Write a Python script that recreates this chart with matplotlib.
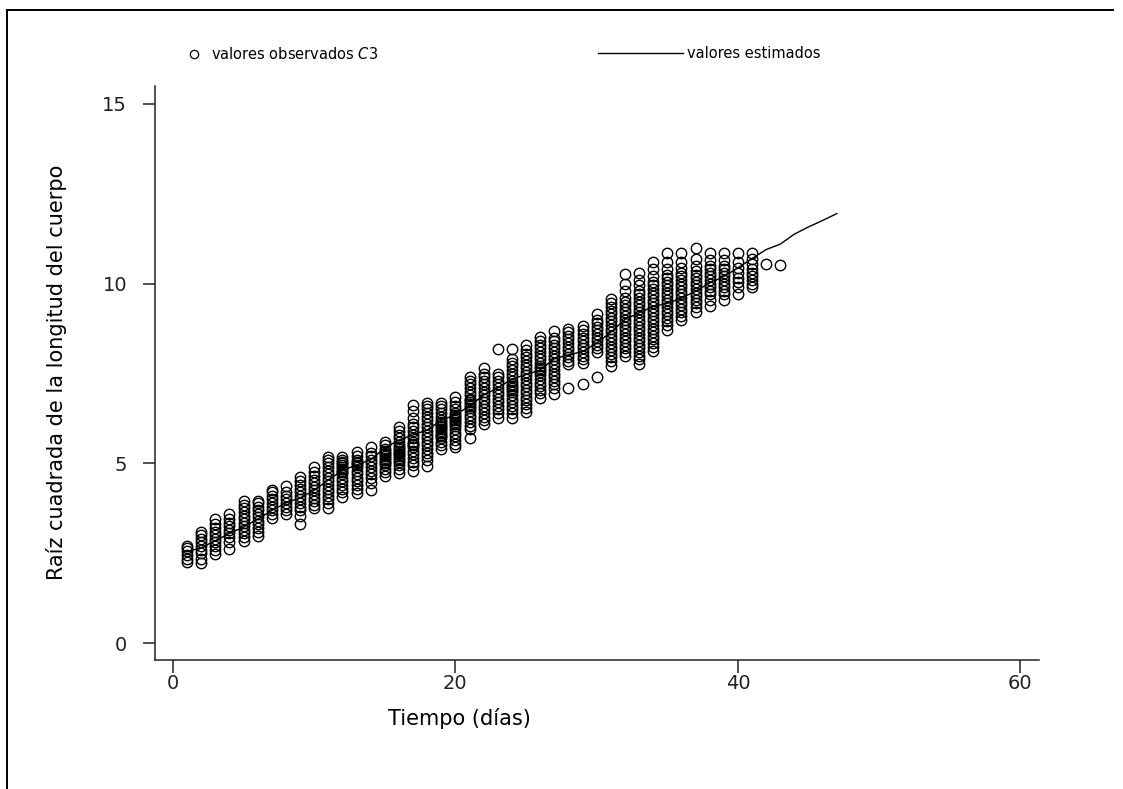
import matplotlib
matplotlib.use('Agg')
import matplotlib.pyplot as plt
from matplotlib.lines import Line2D

obs = {
    1: [2.25, 2.35, 2.45, 2.55, 2.65, 2.7],
    2: [2.22, 2.35, 2.5, 2.6, 2.7, 2.8, 2.9, 3.0, 3.1],
    3: [2.48, 2.6, 2.7, 2.8, 2.9, 3.0, 3.1, 3.2, 3.3, 3.45],
    4: [2.62, 2.8, 2.95, 3.05, 3.15, 3.25, 3.35, 3.45, 3.6],
    5: [2.85, 2.95, 3.05, 3.15, 3.25, 3.35, 3.45, 3.55, 3.65, 3.75, 3.85, 3.96],
    6: [2.98, 3.1, 3.2, 3.3, 3.4, 3.5, 3.6, 3.7, 3.8, 3.9, 3.96],
    7: [3.48, 3.6, 3.7, 3.8, 3.9, 4.0, 4.1, 4.2, 4.26],
    8: [3.59, 3.7, 3.8, 3.9, 4.0, 4.1, 4.2, 4.37],
    9: [3.31, 3.55, 3.7, 3.8, 3.9, 4.0, 4.1, 4.2, 4.3, 4.4, 4.5, 4.62],
    10: [3.76, 3.85, 3.95, 4.05, 4.15, 4.25, 4.35, 4.45, 4.55, 4.65, 4.75, 4.9],
    11: [3.76, 3.9, 4.0, 4.1, 4.2, 4.3, 4.4, 4.5, 4.6, 4.7, 4.8, 4.9, 5.0, 5.1, 5.18],
    12: [4.07, 4.2, 4.3, 4.4, 4.5, 4.6, 4.7, 4.75, 4.8, 4.85, 4.9, 4.95, 5.0, 5.05, 5.1, 5.19],
    13: [4.18, 4.3, 4.4, 4.5, 4.6, 4.7, 4.8, 4.9, 4.95, 5.0, 5.05, 5.1, 5.2, 5.32],
    14: [4.26, 4.45, 4.6, 4.7, 4.8, 4.9, 5.0, 5.1, 5.2, 5.3, 5.46],
    15: [4.66, 4.75, 4.85, 4.95, 5.0, 5.05, 5.1, 5.15, 5.2, 5.25, 5.3, 5.35, 5.4, 5.5, 5.6],
    16: [4.74, 4.85, 4.95, 5.05, 5.1, 5.15, 5.2, 5.25, 5.3, 5.35, 5.4, 5.45, 5.5, 5.6, 5.7, 5.8, 5.9, 6.02],
    17: [4.8, 4.95, 5.05, 5.15, 5.25, 5.35, 5.45, 5.5, 5.55, 5.6, 5.7, 5.8, 5.9, 6.0, 6.1, 6.25, 6.45, 6.63],
    18: [4.93, 5.1, 5.2, 5.3, 5.4, 5.5, 5.6, 5.7, 5.8, 5.9, 6.0, 6.1, 6.2, 6.3, 6.4, 6.5, 6.6, 6.69],
    19: [5.4, 5.5, 5.6, 5.7, 5.75, 5.8, 5.85, 5.9, 5.95, 6.0, 6.05, 6.1, 6.15, 6.2, 6.3, 6.4, 6.5, 6.6, 6.68],
    20: [5.46, 5.55, 5.65, 5.75, 5.85, 5.95, 6.05, 6.1, 6.15, 6.2, 6.25, 6.3, 6.35, 6.4, 6.5, 6.6, 6.7, 6.85],
    21: [5.7, 5.95, 6.05, 6.15, 6.25, 6.35, 6.45, 6.55, 6.6, 6.65, 6.7, 6.75, 6.8, 6.9, 7.0, 7.1, 7.2, 7.3, 7.41],
    22: [6.1, 6.2, 6.3, 6.4, 6.5, 6.6, 6.7, 6.8, 6.9, 7.0, 7.1, 7.2, 7.3, 7.4, 7.5, 7.66],
    23: [6.27, 6.4, 6.5, 6.6, 6.7, 6.8, 6.9, 7.0, 7.1, 7.2, 7.3, 7.4, 7.49, 8.19],
    24: [6.27, 6.4, 6.5, 6.6, 6.7, 6.8, 6.9, 7.0, 7.05, 7.1, 7.15, 7.2, 7.3, 7.4, 7.5, 7.6, 7.7, 7.8, 7.91, 8.19],
    25: [6.42, 6.55, 6.65, 6.75, 6.85, 6.95, 7.05, 7.15, 7.25, 7.35, 7.45, 7.55, 7.65, 7.75, 7.85, 7.95, 8.05, 8.15, 8.3],
    26: [6.82, 6.95, 7.05, 7.15, 7.25, 7.35, 7.45, 7.55, 7.6, 7.65, 7.7, 7.8, 7.9, 8.0, 8.1, 8.2, 8.3, 8.4, 8.52],
    27: [6.94, 7.1, 7.2, 7.3, 7.4, 7.5, 7.6, 7.7, 7.8, 7.9, 8.0, 8.1, 8.2, 8.3, 8.4, 8.5, 8.67],
    28: [7.1, 7.77, 7.85, 7.95, 8.05, 8.15, 8.25, 8.35, 8.45, 8.55, 8.65, 8.75],
    29: [7.2, 7.8, 7.9, 8.0, 8.1, 8.2, 8.3, 8.4, 8.5, 8.6, 8.7, 8.81],
    30: [7.39, 8.11, 8.2, 8.3, 8.4, 8.5, 8.6, 8.7, 8.8, 8.9, 9.0, 9.16],
    31: [7.7, 7.85, 7.95, 8.05, 8.15, 8.25, 8.35, 8.45, 8.55, 8.65, 8.75, 8.85, 8.95, 9.05, 9.15, 9.25, 9.35, 9.45, 9.58],
    32: [8.0, 8.1, 8.2, 8.3, 8.4, 8.5, 8.6, 8.7, 8.8, 8.9, 9.0, 9.1, 9.2, 9.3, 9.4, 9.5, 9.6, 9.8, 10.0, 10.28],
    33: [7.77, 7.9, 8.0, 8.1, 8.2, 8.3, 8.4, 8.5, 8.6, 8.7, 8.8, 8.9, 9.0, 9.1, 9.2, 9.3, 9.4, 9.5, 9.6, 9.7, 9.8, 9.95, 10.1, 10.31],
    34: [8.14, 8.25, 8.35, 8.45, 8.55, 8.65, 8.75, 8.85, 8.95, 9.05, 9.15, 9.25, 9.35, 9.45, 9.55, 9.65, 9.75, 9.85, 9.95, 10.05, 10.2, 10.4, 10.6],
    35: [8.7, 8.85, 8.95, 9.05, 9.15, 9.25, 9.35, 9.45, 9.55, 9.65, 9.75, 9.85, 9.95, 10.05, 10.15, 10.25, 10.4, 10.6, 10.84],
    36: [8.98, 9.1, 9.2, 9.3, 9.4, 9.5, 9.6, 9.7, 9.8, 9.9, 10.0, 10.1, 10.2, 10.3, 10.45, 10.6, 10.84],
    37: [9.2, 9.35, 9.45, 9.55, 9.65, 9.75, 9.85, 9.95, 10.05, 10.15, 10.25, 10.35, 10.5, 10.7, 11.0],
    38: [9.39, 9.55, 9.7, 9.8, 9.9, 10.0, 10.1, 10.2, 10.3, 10.4, 10.5, 10.65, 10.84],
    39: [9.54, 9.7, 9.8, 9.9, 10.0, 10.1, 10.2, 10.3, 10.4, 10.5, 10.65, 10.84],
    40: [9.72, 9.9, 10.05, 10.15, 10.3, 10.45, 10.6, 10.84],
    41: [9.9, 10.0, 10.1, 10.2, 10.3, 10.4, 10.55, 10.7, 10.84],
    42: [10.56],
    43: [10.53],
}

# estimated curve
est_days = list(range(1, 48))
est_vals = [2.55, 2.65, 2.85, 3.05, 3.23, 3.45, 3.69, 3.9, 4.04, 4.25,
            4.54, 4.8, 4.96, 5.1, 5.43, 5.65, 5.79, 5.93, 6.2, 6.35,
            6.6, 6.9, 7.1, 7.35, 7.47, 7.6, 7.91, 8.02, 8.11, 8.35,
            8.65, 9.0, 9.19, 9.36, 9.45, 9.6, 9.79, 10.02, 10.2, 10.44,
            10.7, 10.95, 11.1, 11.38, 11.58, 11.76, 11.95]

x_obs = []
y_obs = []
for d in obs:
    for v in obs[d]:
        x_obs.append(d)
        y_obs.append(v)

plt.rcParams['font.family'] = 'DejaVu Sans'
fig = plt.figure(figsize=(11.23, 7.89), dpi=100)
ax = fig.add_axes([0.138, 0.1635, 0.787, 0.7275])

ax.plot(x_obs, y_obs, 'o', mfc='none', mec='black', mew=1.0, ms=7.5)
ax.plot(est_days, est_vals, color='black', lw=1.0)

ax.set_xlim(-1.27, 61.3)
ax.set_ylim(-0.47, 15.5)
ax.set_xticks([0, 20, 40, 60])
ax.set_yticks([0, 5, 10, 15])
ax.spines['top'].set_visible(False)
ax.spines['right'].set_visible(False)
for s in ['left', 'bottom']:
    ax.spines[s].set_linewidth(1.1)
    ax.spines[s].set_color('#222222')
ax.tick_params(axis='both', direction='out', length=9, width=1.1, labelsize=14, colors='#222222')
ax.tick_params(axis='y', pad=11)
ax.tick_params(axis='x', pad=1)

ax.set_xlabel('Tiempo (días)', fontsize=15)
ax.set_ylabel('Raíz cuadrada de la longitud del cuerpo', fontsize=15)
ax.xaxis.set_label_coords(0.344, -0.084)
ax.yaxis.set_label_coords(-0.10, 0.502)

h1 = Line2D([], [], ls='none', marker='o', mfc='none', mec='black', mew=0.9, ms=6)
h2 = Line2D([], [], color='black', lw=1.0)
fig.legend(handles=[h1], labels=[r'valores observados $\it{C}$3'], loc='center left',
           bbox_to_anchor=(0.155, 0.932), frameon=False, fontsize=10.5,
           handlelength=1.0, handletextpad=0.6)
fig.legend(handles=[h2], labels=['valores estimados'], loc='center left',
           bbox_to_anchor=(0.521, 0.932), frameon=False, fontsize=10.5,
           handlelength=5.8, handletextpad=0.3)

# outer frame
fig.add_artist(Line2D([7 / 1123, 1113 / 1123], [1 - 10 / 789, 1 - 10 / 789],
                      transform=fig.transFigure, color='black', lw=1.4))
fig.add_artist(Line2D([7 / 1123, 7 / 1123], [1 - 10 / 789, 0],
                      transform=fig.transFigure, color='black', lw=1.4))

fig.savefig('out.png', dpi=100)
